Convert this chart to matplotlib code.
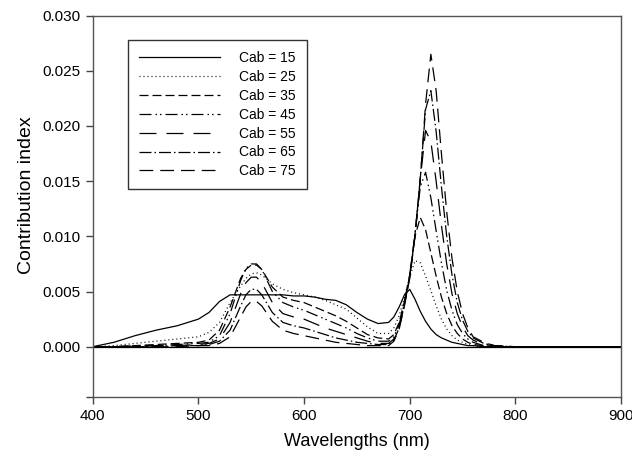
import matplotlib
matplotlib.use("Agg")
import matplotlib.pyplot as plt

plt.rcParams.update({
    "font.family": ["Liberation Sans", "DejaVu Sans"],
    "font.size": 10,
    "axes.linewidth": 1.0,
})

# wavelength grid (nm)
wavelengths = [400, 420, 440, 460, 480, 500, 510, 520, 530, 540, 545, 550, 555,
               560, 565, 570, 580, 590, 600, 610, 620, 630, 640, 650, 660, 670,
               680, 685, 690, 695, 700, 705, 710, 715, 720, 725, 730, 735, 740,
               745, 750, 755, 760, 770, 780, 800, 900]

cab15 = [0.0000, 0.0004, 0.0010, 0.0015, 0.0019, 0.0025, 0.0031, 0.0041, 0.0047,
         0.0047, 0.0047, 0.0047, 0.0047, 0.0047, 0.0047, 0.0047, 0.0047, 0.0046,
         0.0046, 0.0045, 0.0043, 0.0042, 0.0038, 0.0031, 0.0025, 0.0021, 0.0022,
         0.0027, 0.0036, 0.0047, 0.0052, 0.0043, 0.0032, 0.0023, 0.0016, 0.0011,
         0.0008, 0.0006, 0.0004, 0.0003, 0.0002, 0.0001, 0.0001, 0.0000, 0.0000,
         0.0000, 0.0000]

cab25 = [0.0000, 0.0001, 0.0003, 0.0005, 0.0007, 0.0009, 0.0013, 0.0022, 0.0040,
         0.0055, 0.0062, 0.0066, 0.0067, 0.0065, 0.0061, 0.0057, 0.0052, 0.0049,
         0.0047, 0.0045, 0.0042, 0.0038, 0.0034, 0.0026, 0.0018, 0.0012, 0.0012,
         0.0017, 0.0028, 0.0045, 0.0063, 0.0078, 0.0076, 0.0064, 0.0051, 0.0037,
         0.0025, 0.0016, 0.0010, 0.0006, 0.0004, 0.0002, 0.0001, 0.0000, 0.0000,
         0.0000, 0.0000]

cab35 = [0.0000, 0.0000, 0.0001, 0.0002, 0.0003, 0.0004, 0.0006, 0.0015, 0.0036,
         0.0062, 0.0070, 0.0074, 0.0074, 0.0070, 0.0062, 0.0054, 0.0045, 0.0042,
         0.0040, 0.0036, 0.0032, 0.0028, 0.0023, 0.0017, 0.0011, 0.0008, 0.0007,
         0.0011, 0.0022, 0.0041, 0.0065, 0.0100, 0.0117, 0.0106, 0.0085, 0.0064,
         0.0045, 0.0030, 0.0019, 0.0012, 0.0007, 0.0004, 0.0002, 0.0001, 0.0000,
         0.0000, 0.0000]

cab45 = [0.0000, 0.0000, 0.0001, 0.0001, 0.0002, 0.0003, 0.0004, 0.0010, 0.0030,
         0.0060, 0.0071, 0.0075, 0.0075, 0.0070, 0.0060, 0.0050, 0.0040, 0.0036,
         0.0033, 0.0029, 0.0025, 0.0021, 0.0017, 0.0012, 0.0008, 0.0005, 0.0005,
         0.0009, 0.0020, 0.0040, 0.0065, 0.0102, 0.0145, 0.0158, 0.0135, 0.0105,
         0.0076, 0.0051, 0.0033, 0.0020, 0.0012, 0.0007, 0.0004, 0.0001, 0.0000,
         0.0000, 0.0000]

cab55 = [0.0000, 0.0000, 0.0000, 0.0001, 0.0001, 0.0002, 0.0003, 0.0007, 0.0022,
         0.0048, 0.0058, 0.0063, 0.0063, 0.0058, 0.0049, 0.0040, 0.0030, 0.0027,
         0.0025, 0.0021, 0.0017, 0.0014, 0.0011, 0.0008, 0.0005, 0.0003, 0.0003,
         0.0007, 0.0018, 0.0039, 0.0064, 0.0102, 0.0152, 0.0196, 0.0186, 0.0150,
         0.0110, 0.0075, 0.0048, 0.0030, 0.0018, 0.0010, 0.0006, 0.0002, 0.0001,
         0.0000, 0.0000]

cab65 = [0.0000, 0.0000, 0.0000, 0.0000, 0.0001, 0.0001, 0.0002, 0.0005, 0.0015,
         0.0037, 0.0047, 0.0052, 0.0052, 0.0047, 0.0039, 0.0031, 0.0022, 0.0019,
         0.0017, 0.0014, 0.0011, 0.0008, 0.0006, 0.0004, 0.0003, 0.0002, 0.0002,
         0.0006, 0.0017, 0.0038, 0.0063, 0.0101, 0.0153, 0.0215, 0.0232, 0.0195,
         0.0145, 0.0100, 0.0065, 0.0040, 0.0024, 0.0014, 0.0008, 0.0003, 0.0001,
         0.0000, 0.0000]

cab75 = [0.0000, 0.0000, 0.0000, 0.0000, 0.0000, 0.0001, 0.0001, 0.0003, 0.0009,
         0.0027, 0.0036, 0.0041, 0.0041, 0.0037, 0.0030, 0.0023, 0.0015, 0.0012,
         0.0010, 0.0008, 0.0006, 0.0004, 0.0003, 0.0002, 0.0001, 0.0001, 0.0001,
         0.0005, 0.0016, 0.0037, 0.0062, 0.0100, 0.0152, 0.0220, 0.0265, 0.0232,
         0.0175, 0.0122, 0.0080, 0.0050, 0.0030, 0.0017, 0.0009, 0.0004, 0.0001,
         0.0000, 0.0000]

series = [cab15, cab25, cab35, cab45, cab55, cab65, cab75]
labels = ["Cab = 15", "Cab = 25", "Cab = 35", "Cab = 45",
          "Cab = 55", "Cab = 65", "Cab = 75"]
styles = ["-",
          (0, (0.8, 2.4)),
          (0, (7.2, 3.2)),
          (0, (9.6, 3.2, 1.2, 2.4, 1.2, 3.2)),
          (0, (13.6, 8)),
          (0, (9.6, 2.4, 1.2, 2.4)),
          (0, (11, 5.6))]

fig = plt.figure(figsize=(6.32, 4.59), dpi=100)
ax = fig.add_axes([0.1467, 0.134, 0.836, 0.832])

for vals, lab, ls in zip(series, labels, styles):
    ax.plot(wavelengths, vals, color="black", linestyle=ls, linewidth=0.9, label=lab)

ax.axhline(0, color="black", linewidth=0.9)

ax.set_xlim(400, 900)
ax.set_ylim(-0.0046, 0.030)
ax.set_xticks([400, 500, 600, 700, 800, 900])
yt = [-0.0046, 0.0, 0.005, 0.010, 0.015, 0.020, 0.025, 0.030]
ax.set_yticks(yt)
ax.set_yticklabels([""] + [f"{v:.3f}" for v in yt[1:]])
ax.tick_params(direction="out", length=5, width=1, colors="#444444",
               labelcolor="black", labelsize=11)
for sp in ax.spines.values():
    sp.set_color("#555555")

ax.set_xlabel("Wavelengths (nm)", fontsize=13, labelpad=7)
ax.set_ylabel("Contribution index", fontsize=14, labelpad=6)
ax.yaxis.set_label_coords(-0.11, 0.53)

leg = ax.legend(loc="upper left", bbox_to_anchor=(0.067, 0.936), frameon=True,
                fancybox=False, edgecolor="black", handlelength=5.8,
                handletextpad=1.4, labelspacing=0.35, borderpad=0.8,
                borderaxespad=0, fontsize=10)
leg.get_frame().set_linewidth(1.0)

fig.savefig("out.png", dpi=100)
